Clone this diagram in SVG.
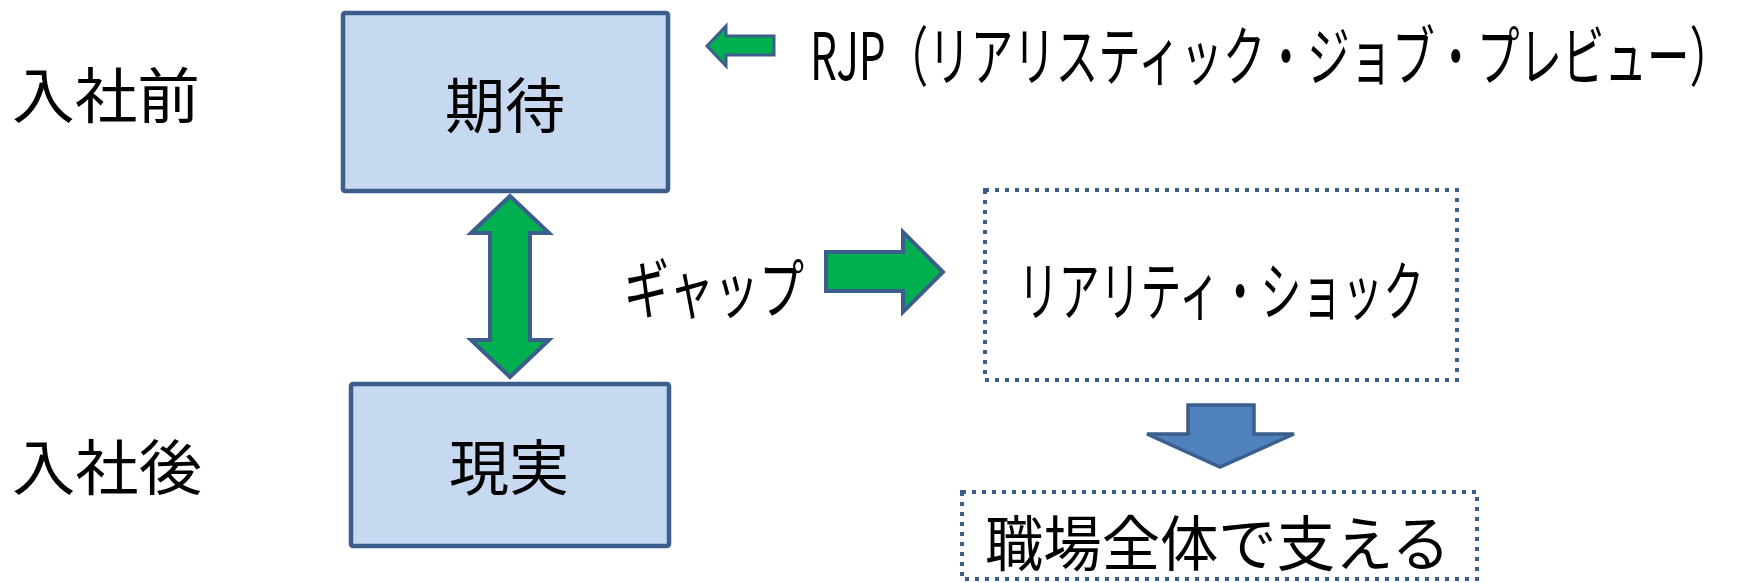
<svg xmlns="http://www.w3.org/2000/svg" width="1742" height="583" viewBox="0 0 1742 583">
<style>
  text { font-family: "Noto Sans CJK JP", "Liberation Sans", sans-serif; font-size: 60px; fill: #000; }
  .kana { font-size: 65px; }
  .box { fill: #C6D9F1; stroke: #3B5E8C; stroke-width: 4.5; }
  .dot { fill: none; stroke: #3B5E8C; stroke-width: 4; stroke-dasharray: 4 6; }
  .green { fill: #00B050; stroke: #3B5E8C; stroke-width: 4; stroke-linejoin: miter; }
  .blue { fill: #4F81BD; stroke: #3B5E8C; stroke-width: 3.5; }
</style>
<rect width="1742" height="583" fill="#fff"/>
<g id="label-before"><text x="12" y="118" textLength="188" lengthAdjust="spacingAndGlyphs">入社前</text></g>
<g id="label-after"><text x="12" y="490" textLength="190" lengthAdjust="spacingAndGlyphs">入社後</text></g>
<g id="node-expectation">
  <rect class="box" x="343" y="13" width="325" height="178" rx="2"/>
  <text x="505" y="128" text-anchor="middle">期待</text>
</g>
<g id="node-reality">
  <rect class="box" x="351" y="384" width="318" height="162" rx="2"/>
  <text x="509" y="490" text-anchor="middle">現実</text>
</g>
<g id="label-gap"><text class="kana" x="624" y="313" textLength="180" lengthAdjust="spacingAndGlyphs">ギャップ</text></g>
<g id="label-rjp"><text class="kana" x="810" y="80" textLength="922" lengthAdjust="spacingAndGlyphs">RJP（リアリスティック・ジョブ・プレビュー）</text></g>
<g id="node-shock">
  <rect class="dot" x="985" y="190" width="472" height="190"/>
  <text class="kana" x="1018" y="315" textLength="406" lengthAdjust="spacingAndGlyphs">リアリティ・ショック</text>
</g>
<g id="node-support">
  <rect class="dot" x="962" y="492" width="515" height="87"/>
  <text x="985" y="566" textLength="465" lengthAdjust="spacingAndGlyphs">職場全体で支える</text>
</g>
<g id="connectors">
  <path class="green" d="M510,196 L549,233 L530,233 L530,340 L549,340 L510,377 L471,340 L490,340 L490,233 L471,233 Z"/>
  <path class="green" d="M826,252 L903,252 L903,232 L943,272 L903,312 L903,291 L826,291 Z"/>
  <path class="green" style="stroke-width:3" d="M707,46 L726,26 L726,36 L774,36 L774,55 L726,55 L726,66 Z"/>
  <path class="blue" d="M1188,405 L1254,405 L1254,434 L1294,434 L1220,467 L1147,434 L1188,434 Z"/>
</g>
</svg>
